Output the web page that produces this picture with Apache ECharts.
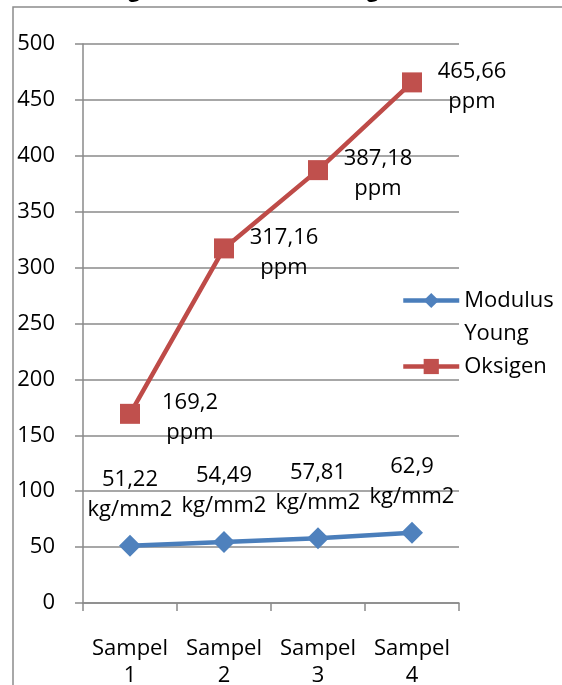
<!DOCTYPE html>
<html>
<head>
<meta charset="utf-8">
<script src="https://cdn.jsdelivr.net/npm/echarts@6/dist/echarts.min.js"></script>
<style>
  html, body { margin: 0; padding: 0; background: #fff; }
  #chart { width: 562px; height: 685px; }
</style>
</head>
<body>
<div id="chart"></div>
<script>
// Sample categories and measured values
const categories = ['Sampel\n1', 'Sampel\n2', 'Sampel\n3', 'Sampel\n4'];
const modulusYoung = [51.22, 54.49, 57.81, 62.9];   // kg/mm2
const oksigen = [169.2, 317.16, 387.18, 465.66];     // ppm
const yTicks = { min: 0, max: 500, interval: 50 };

const FONT = '"Open Sans", sans-serif';
const fmt = v => String(v).replace('.', ',');

const chart = echarts.init(document.getElementById('chart'));
chart.setOption({
  animation: false,
  textStyle: { fontFamily: FONT },
  graphic: [
    {
      type: 'text', left: 14, top: -19, z: 1,
      style: { text: 'Kadar Oksigen dan Modulus Young', font: 'bold 21px ' + FONT, fill: '#000' }
    },
    {
      type: 'rect', z: 10, silent: true,
      shape: { x: 13, y: 7, width: 800, height: 900 },
      style: { fill: 'none', stroke: '#8c8c8c', lineWidth: 1.5 }
    }
  ],
  grid: { left: 83, right: 103, top: 44, bottom: 82, containLabel: false, outerBoundsMode: 'none' },
  legend: {
    orient: 'vertical', left: 401, top: 251, padding: 0, itemGap: 0,
    itemWidth: 56, itemHeight: 19,
    data: ['Modulus Young', 'Oksigen'],
    // leading blank line keeps the first word level with the legend marker
    formatter: n => n === 'Modulus Young' ? ' \nModulus\nYoung' : n,
    lineStyle: { width: 4.5 },
    textStyle: { fontFamily: FONT, fontSize: 22, color: '#000', lineHeight: 33 }
  },
  xAxis: {
    type: 'category', data: categories, boundaryGap: true,
    axisLine: { lineStyle: { color: '#8a8a8a', width: 1.5 } },
    axisTick: { show: true, interval: 0, length: 8, lineStyle: { color: '#8a8a8a', width: 1.5 } },
    axisLabel: { interval: 0, color: '#000', fontSize: 22, lineHeight: 27, margin: 32, fontFamily: FONT }
  },
  yAxis: {
    type: 'value', min: yTicks.min, max: yTicks.max, interval: yTicks.interval,
    axisLine: { show: true, lineStyle: { color: '#8a8a8a', width: 1.5 } },
    axisTick: { show: true, length: 8, lineStyle: { color: '#8a8a8a', width: 1.5 } },
    splitLine: { lineStyle: { color: '#8a8a8a', width: 1.5 } },
    axisLabel: { color: '#000', fontSize: 22, margin: 28, fontFamily: FONT }
  },
  series: [
    {
      name: 'Modulus Young', type: 'line', data: modulusYoung,
      symbol: 'diamond', symbolSize: 22,
      lineStyle: { color: '#4a7ebb', width: 4.5 },
      itemStyle: { color: '#4f81bd' },
      label: {
        show: true, position: 'top', distance: 10, color: '#000',
        fontSize: 22, lineHeight: 30, fontFamily: FONT,
        formatter: p => fmt(p.value) + '\nkg/mm2'
      }
    },
    {
      name: 'Oksigen', type: 'line', data: oksigen,
      symbol: 'rect', symbolSize: 20,
      lineStyle: { color: '#be4b48', width: 4.5 },
      itemStyle: { color: '#c0504d' },
      label: {
        show: true, position: 'right', distance: 50, align: 'center', verticalAlign: 'middle',
        offset: [0, 4], color: '#000', fontSize: 22, lineHeight: 30, fontFamily: FONT,
        formatter: p => fmt(p.value) + '\nppm'
      }
    }
  ]
});
</script>
</body>
</html>
